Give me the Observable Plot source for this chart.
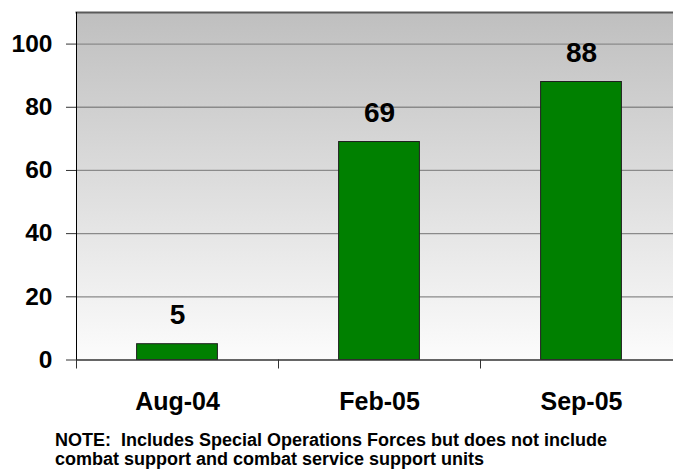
<!DOCTYPE html>
<html><head><meta charset="utf-8">
<script src="https://cdn.jsdelivr.net/npm/d3@7"></script>
<script src="https://cdn.jsdelivr.net/npm/@observablehq/plot@0.6"></script>
<style>
html,body{margin:0;padding:0;background:#fff;overflow:hidden;font-family:"Liberation Sans",Arial,sans-serif}
#chart{position:absolute;left:0;top:0}
#note{position:absolute;left:55px;top:430.5px;font-weight:bold;font-size:18px;line-height:19.5px;color:#000;white-space:nowrap}
</style></head>
<body>
<div id="chart"></div>
<div id="note"></div>
<script>
const categories = ["Aug-04", "Feb-05", "Sep-05"];
const values = [5, 69, 88];
const yTicks = [0, 20, 40, 60, 80, 100];
const noteLines = [
  "NOTE:\u00a0 Includes Special Operations Forces but does not include",
  "combat support and combat service support units"
];

const data = categories.map((c, i) => ({c, i, v: values[i]}));
const boundaries = d3.range(categories.length + 1);

const plot = Plot.plot({
  width: 673,
  height: 420,
  marginLeft: 76,
  marginRight: -9,
  marginTop: 12,
  marginBottom: 60.5,
  style: {fontFamily: "Liberation Sans, Arial, sans-serif", color: "#000", background: "transparent", overflow: "hidden"},
  x: {domain: [0, categories.length], axis: null},
  y: {domain: [0, 110], axis: null},
  marks: [
    Plot.frame({fill: "url(#bg)", stroke: null}),
    Plot.ruleY(yTicks.filter(d => d > 0), {stroke: "#8a8a8a", strokeWidth: 1.3}),
    Plot.frame({anchor: "top", stroke: "#5a5a5a", strokeWidth: 2}),
    Plot.rectY(data, {x1: d => d.i + 0.3, x2: d => d.i + 0.7, y1: 0, y2: "v", fill: "#008000", stroke: "#1f1f1f", strokeWidth: 1}),
    Plot.text(data, {x: d => d.i + 0.5, y: "v", text: d => String(d.v), dy: -29, lineAnchor: "middle", fontSize: 28, fontWeight: "bold", fill: "#000"}),
    Plot.ruleY([0], {stroke: "#333", strokeWidth: 1.5}),
    Plot.axisY(yTicks, {label: null, tickSize: 10, tickPadding: 14, fontSize: 24.5, fontWeight: "bold", stroke: "#333", fill: "#000"}),
    Plot.frame({anchor: "left", stroke: "#000", strokeWidth: 1}),
    Plot.axisX(boundaries, {label: null, anchor: "bottom", tickSize: 9, tickFormat: () => "", stroke: "#333"}),
    Plot.text(data, {x: d => d.i + 0.5, frameAnchor: "bottom", text: "c", dy: 41.5, lineAnchor: "middle", fontSize: 25, fontWeight: "bold", fill: "#000"})
  ]
});

const ns = "http://www.w3.org/2000/svg";
const defs = document.createElementNS(ns, "defs");
const grad = document.createElementNS(ns, "linearGradient");
grad.setAttribute("id", "bg");
grad.setAttribute("x1", "0"); grad.setAttribute("y1", "0");
grad.setAttribute("x2", "0"); grad.setAttribute("y2", "1");
[["0%", "#bfbfbf"], ["100%", "#fcfcfc"]].forEach(([o, c]) => {
  const s = document.createElementNS(ns, "stop");
  s.setAttribute("offset", o); s.setAttribute("stop-color", c);
  grad.appendChild(s);
});
defs.appendChild(grad);
plot.insertBefore(defs, plot.firstChild);

document.getElementById("chart").appendChild(plot);
document.getElementById("note").innerHTML = noteLines.join("<br>");
</script>
</body></html>
